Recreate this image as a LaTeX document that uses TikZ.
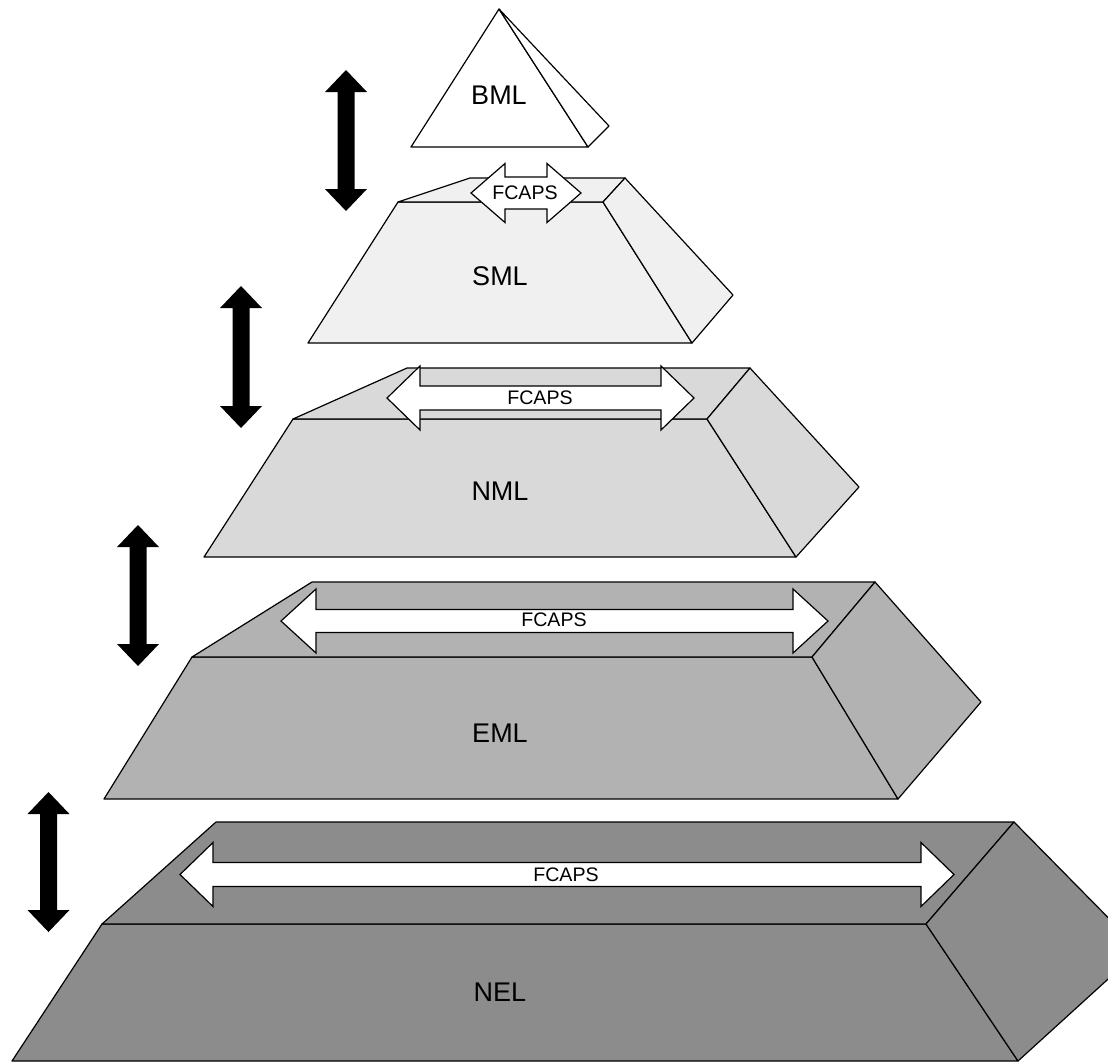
\documentclass[tikz,border=0pt]{standalone}
\usepackage{fontspec}
\setmainfont{Liberation Sans}
\begin{document}
\begin{tikzpicture}[x=0.5pt,y=-0.5pt,
  face/.style={draw=black, line width=0.6pt, line join=round},
  layerlabel/.style={inner sep=0pt, font=\fontsize{13.5}{14}\selectfont},
  fcapslabel/.style={inner sep=0pt, font=\fontsize{9.8}{10}\selectfont},
  fcapsarrow/.style={draw=black, fill=white, line width=0.6pt, line join=miter},
  levelarrow/.style={fill=black},
  pics/twoway/.style n args={4}{code={
    % #1 tip-to-tip length, #2 head width, #3 shaft width, #4 head length
    \path[pic actions]
      ({-#1/2},0) -- ({-#1/2+#4},{-#2/2}) -- ({-#1/2+#4},{-#3/2})
      -- ({#1/2-#4},{-#3/2}) -- ({#1/2-#4},{-#2/2}) -- ({#1/2},0)
      -- ({#1/2-#4},{#2/2}) -- ({#1/2-#4},{#3/2})
      -- ({-#1/2+#4},{#3/2}) -- ({-#1/2+#4},{#2/2}) -- cycle;
  }},
]
\definecolor{smlgray}{gray}{0.94}
\definecolor{nmlgray}{gray}{0.85}
\definecolor{emlgray}{gray}{0.70}
\definecolor{nelgray}{gray}{0.55}

\useasboundingbox (0,0) rectangle (1108,1062);
\clip (0,0) rectangle (1108,1062);

% NEL layer
\path[face, fill=nelgray] (102,924) -- (926,924) -- (1018,1061) -- (12,1061) -- cycle;
\path[face, fill=nelgray] (216,822) -- (1014,822) -- (926,924) -- (102,924) -- cycle;
\path[face, fill=nelgray] (926,924) -- (1014,822) -- (1140,950) -- (1018,1061) -- cycle;
\pic[fcapsarrow] at (567,874.5) {twoway={774}{64}{24}{33}};
\node[fcapslabel] (fcapsnel) at (566,875) {FCAPS};
\node[layerlabel] (nel) at (500,992) {NEL};

% EML layer
\path[face, fill=emlgray] (192,657) -- (812,657) -- (898,799) -- (104,799) -- cycle;
\path[face, fill=emlgray] (312,582) -- (875,582) -- (812,657) -- (192,657) -- cycle;
\path[face, fill=emlgray] (812,657) -- (875,582) -- (981,702) -- (898,799) -- cycle;
\pic[fcapsarrow] at (554.5,621) {twoway={547}{64}{23}{35}};
\node[fcapslabel] (fcapseml) at (554,620) {FCAPS};
\node[layerlabel] (eml) at (500,733) {EML};

% NML layer
\path[face, fill=nmlgray] (293,419) -- (707,419) -- (796,557) -- (204,557) -- cycle;
\path[face, fill=nmlgray] (407,368) -- (750,368) -- (707,419) -- (293,419) -- cycle;
\path[face, fill=nmlgray] (707,419) -- (750,368) -- (859,487) -- (796,557) -- cycle;
\pic[fcapsarrow] at (540.5,398) {twoway={307}{64}{24}{33}};
\node[fcapslabel] (fcapsnml) at (540,398) {FCAPS};
\node[layerlabel] (nml) at (500,491) {NML};

% SML layer
\path[face, fill=smlgray] (398,202) -- (603,202) -- (692,343) -- (308,343) -- cycle;
\path[face, fill=smlgray] (470,178) -- (625,178) -- (603,202) -- (398,202) -- cycle;
\path[face, fill=smlgray] (603,202) -- (625,178) -- (733,295) -- (692,343) -- cycle;
\pic[fcapsarrow] at (526,193) {twoway={110}{59}{32}{34}};
\node[fcapslabel] (fcapssml) at (525,193) {FCAPS};
\node[layerlabel] (sml) at (500,276) {SML};

% BML apex
\path[face, fill=white] (499,9) -- (588,147) -- (411,147) -- cycle;
\path[face, fill=white] (499,9) -- (609,126) -- (588,147) -- cycle;
\node[layerlabel] (bml) at (499,95) {BML};

% arrows between neighbouring levels
\pic[levelarrow, rotate=90] at (346,140.5) {twoway={141}{42}{17}{22}};
\pic[levelarrow, rotate=90] at (241,357) {twoway={142}{42}{17}{22}};
\pic[levelarrow, rotate=90] at (138,595.5) {twoway={141}{42}{17}{22}};
\pic[levelarrow, rotate=90] at (48.5,862) {twoway={140}{42}{17}{22}};
\end{tikzpicture}
\end{document}
